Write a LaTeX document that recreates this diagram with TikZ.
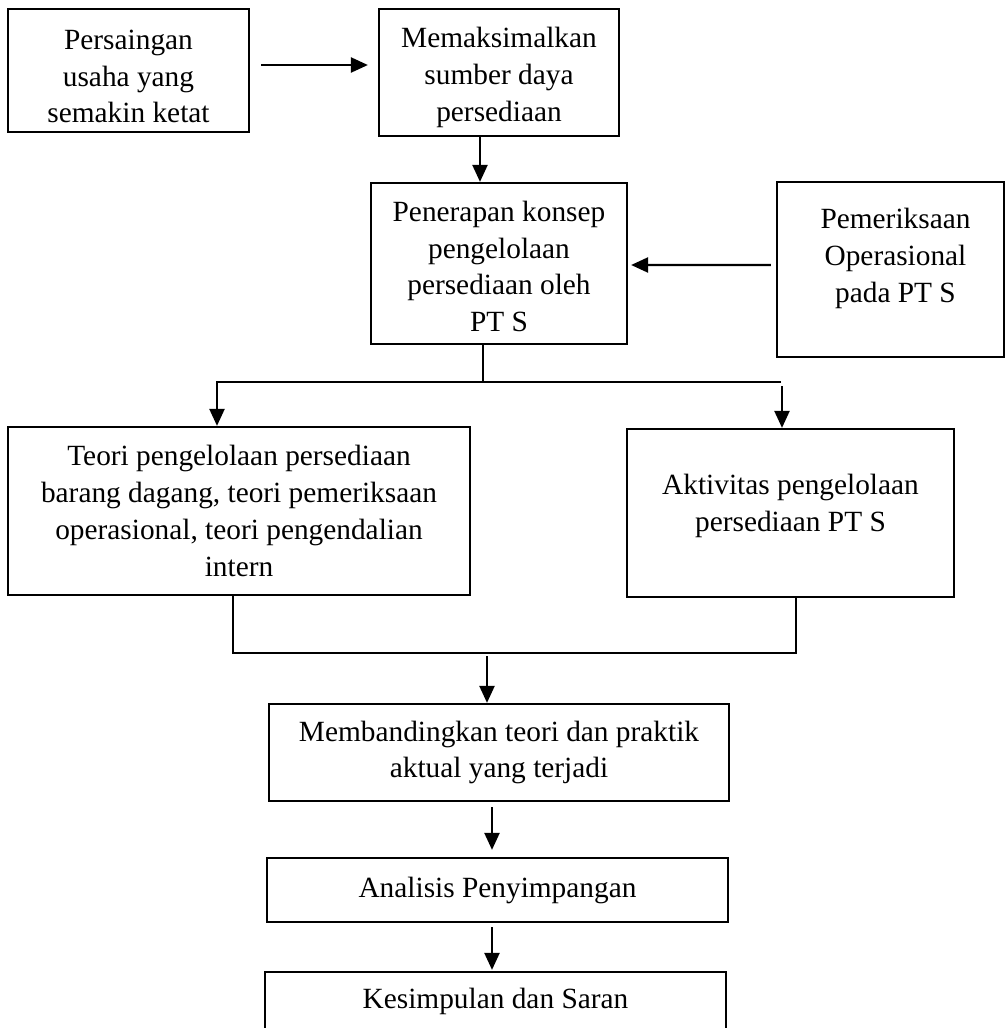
\documentclass[tikz,border=0pt]{standalone}
\usepackage{fontspec}
\setmainfont{Liberation Serif}
\usetikzlibrary{arrows.meta,calc}

\begin{document}
\begin{tikzpicture}[
  x=0.02cm, y=-0.02cm,
  font=\fontsize{16.7}{21}\selectfont,
  box/.style={draw, line width=1.3pt, align=center, inner sep=0pt},
  txt/.style={align=center, inner sep=0pt},
  line/.style={line width=1.3pt},
  arr/.style={line width=1.3pt, -{Triangle[length=0.34cm, width=0.3cm]}}
]
\useasboundingbox (0,0) rectangle (1006,1028);
\clip (0,0) rectangle (1006,1028);

% top row
\node[box, minimum width=4.82cm, minimum height=2.46cm] (pers) at (128.5,70.5) {};
\node[txt] (perstext) at ($(pers.center)+(0,6)$) {Persaingan\\usaha yang\\semakin ketat};
\node[box, minimum width=4.80cm, minimum height=2.54cm] (maks) at (499,72.5) {};
\node[txt] (makstext) at ($(maks.center)+(0,5)$) {Memaksimalkan\\sumber daya\\persediaan};

% concept and audit
\node[box, minimum width=5.12cm, minimum height=3.22cm] (pene) at (499,263.5) {};
\node[txt] (penetext) at ($(pene.center)+(0,3)$) {Penerapan konsep\\pengelolaan\\persediaan oleh\\PT S};
\node[box, minimum width=4.54cm, minimum height=3.50cm] (peme) at (890.5,269.5) {};
\node[txt] (pemetext) at ($(peme.center)+(5,-11)$) {Pemeriksaan\\Operasional\\pada PT S};

% theory vs practice
\node[box, minimum width=9.24cm, minimum height=3.36cm] (teori) at (239,511) {Teori pengelolaan persediaan\\barang dagang, teori pemeriksaan\\operasional, teori pengendalian\\intern};
\node[box, minimum width=6.54cm, minimum height=3.36cm] (akt) at (790.5,513) {};
\node[txt] (akttext) at ($(akt.center)+(0,-7)$) {Aktivitas pengelolaan\\persediaan PT S};

% analysis chain
\node[box, minimum width=9.20cm, minimum height=1.94cm] (band) at (499,752.5) {Membandingkan teori dan praktik\\aktual yang terjadi};
\node[box, minimum width=9.22cm, minimum height=1.28cm] (anal) at (497.5,890) {Analisis Penyimpangan};
\node[box, minimum width=9.22cm, minimum height=2.4cm] (kes) at (495.5,1032) {};
\node[txt] (kestext) at ($(kes.north)+(0,31)$) {Kesimpulan dan Saran};

% arrows
\draw[arr] ($(pers.east)+(11,-5.5)$) -- ($(maks.west)+(-10,-7.5)$);
\draw[arr] ($(maks.south)+(-19,0)$) -- ($(pene.north)+(-19,0)$);
\draw[arr] ($(peme.west)+(-5,-4.5)$) -- ($(pene.east)+(3,1.5)$);

% fork
\coordinate (stem) at (483,382);
\coordinate (forkL) at (217,382);
\coordinate (forkR) at (781,382);
\coordinate (dropR) at (782,386);
\draw[line] (stem |- pene.south) -- (stem);
\draw[arr] (forkR) -- (forkL) -- (forkL |- teori.north);
\draw[arr] (dropR) -- (dropR |- akt.north);

% join
\coordinate (joinL) at (233,653);
\coordinate (joinR) at (796,653);
\coordinate (dropM) at (487,656);
\draw[line] (joinL |- teori.south) -- (joinL) -- (joinR) -- (joinR |- akt.south);
\draw[arr] (dropM) -- (dropM |- band.north);

\draw[arr] ($(band.south)+(-7,5)$) -- ($(anal.north)+(-5.5,-7)$);
\draw[arr] ($(anal.south)+(-5.5,4)$) -- ($(kes.north)+(-3.5,-1)$);
\end{tikzpicture}
\end{document}
